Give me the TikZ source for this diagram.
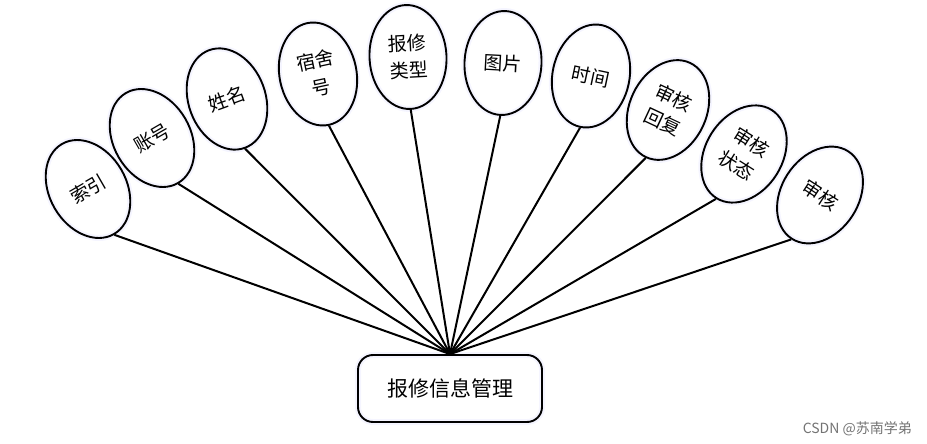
\documentclass[tikz,border=0pt]{standalone}
\usepackage{fontspec}
\newfontfamily\cjk{Noto Sans CJK SC}
\tikzset{
  attr/.style={ellipse, draw, line width=1.9pt, minimum width=77pt, minimum height=104pt,
    inner sep=0pt, align=center, font=\cjk\fontsize{19}{27}\selectfont,
    preaction={draw=blue!4, line width=6pt}},
  link/.style={line width=2pt},
  main/.style={rectangle, rounded corners=15pt, draw, line width=1.9pt, minimum width=184pt,
    minimum height=67pt, font=\cjk\fontsize{21}{24}\selectfont,
    preaction={draw=blue!4, line width=6pt}},
}
\usetikzlibrary{shapes.geometric}
\begin{document}
\begin{tikzpicture}[x=1pt,y=-1pt]
\useasboundingbox (0,0) rectangle (927,444);
\node[main] (box) at (450,388.5) {报修信息管理};
\coordinate (hub) at (box.north);
\node[attr, rotate=30] (a1) at (88,189) {索引};
\node[attr, rotate=30] (a2) at (152,138) {账号};
\node[attr, rotate=20] (a3) at (227,99) {姓名};
\node[attr, rotate=12] (a4) at (318,74) {宿舍\\号};
\node[attr, rotate=3] (a5) at (408,57) {报修\\类型};
\node[attr, rotate=-3] (a6) at (503,63) {图片};
\node[attr, rotate=-12] (a7) at (591,76) {时间};
\node[attr, rotate=-25] (a8) at (668,110) {审核\\回复};
\node[attr, rotate=-32] (a9) at (744,154) {审核\\状态};
\node[attr, rotate=-33] (a10) at (820,195) {审核};
\foreach \n in {a1,a2,a3,a4,a5,a6,a7,a8,a9,a10}{
  \draw[link] (\n.south) -- (hub);
}
\node[anchor=base east, text=black!55, font=\cjk\fontsize{14}{16}\selectfont, inner sep=0pt] (wm) at (912,433) {CSDN @苏南学弟};
\end{tikzpicture}
\end{document}
